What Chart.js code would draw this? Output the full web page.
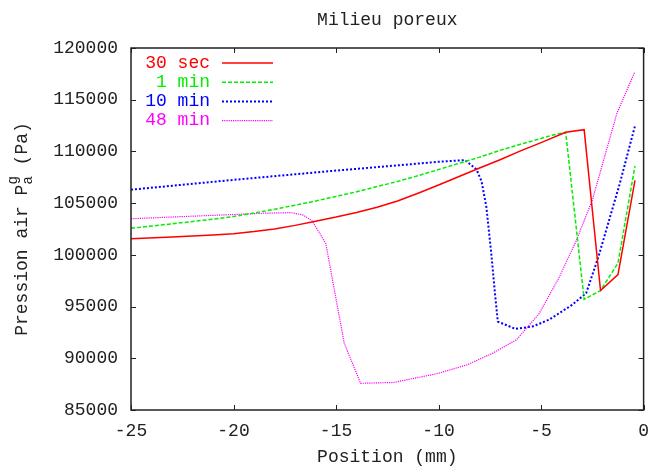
<!DOCTYPE html>
<html>
<head>
<meta charset="utf-8">
<script src="https://cdn.jsdelivr.net/npm/chart.js@4/dist/chart.umd.min.js"></script>
<style>
  body { margin: 0; background: #fff; }
</style>
</head>
<body>
<canvas id="myChart" width="659" height="468"></canvas>
<script>
// series labels
var labels = ['30 sec', ' 1 min', '10 min', '48 min'];

// position (mm) / pression (Pa)
var x30s = [-25, -23, -21, -20, -19, -18, -17, -16, -15, -14, -13, -12, -11, -10, -9, -8, -7, -6, -5, -3.8, -2.9, -2.1, -1.25, -0.42];
var p30s = [101550, 101720, 101920, 102050, 102250, 102500, 102850, 103250, 103650, 104100, 104600, 105200, 105950, 106750, 107580, 108400, 109200, 110050, 110850, 111850, 112100, 96550, 98100, 107200];

var x1m = [-25, -23, -21, -20, -19, -18, -17, -16, -15, -14, -13, -12, -11, -10, -9, -8, -7, -6, -5, -4.5, -3.8, -2.9, -2.1, -1.25, -0.42];
var p1m = [102570, 103000, 103450, 103700, 104050, 104400, 104800, 105200, 105650, 106100, 106600, 107100, 107650, 108250, 108850, 109450, 110100, 110700, 111250, 111550, 111850, 95700, 96550, 99200, 108600];

var x10m = [-25, -20, -15, -12, -10, -8.7, -8.15, -7.9, -7.67, -7.43, -7.25, -7.11, -6.26, -5.42, -4.62, -3.49, -2.8, -2.2, -1.16, -0.42];
var p10m = [106300, 107250, 108150, 108650, 109000, 109160, 108250, 107100, 104650, 100150, 96300, 93550, 92850, 93070, 93720, 95160, 96300, 99830, 106910, 112470];

var x48m = [-25, -22.5, -20, -18.5, -17.2, -16.6, -16.15, -15.5, -14.6, -13.8, -12.2, -10.1, -8.6, -7.35, -6.2, -5.1, -4.15, -3.3, -2.5, -1.3, -0.43];
var p48m = [103490, 103700, 103900, 104030, 104080, 103850, 103250, 101100, 91450, 87580, 87660, 88500, 89370, 90500, 91790, 94300, 97700, 101300, 105300, 113700, 117680];

var xTicks = [-25, -20, -15, -10, -5, 0];
var yTicks = [85000, 90000, 95000, 100000, 105000, 110000, 115000, 120000];

var colors = ['#ff0000', '#00ee00', '#0000ff', '#ff00ff'];
var dashes = [[], [4, 2], [2, 2], [1.2, 1]];
var widths = [1.5, 1.5, 2, 1.2];

var FONT = "'Liberation Mono', 'DejaVu Sans Mono', monospace";

function pts(xs, ys) {
    return xs.map(function (v, i) { return {x: v, y: ys[i]}; });
}

var series = [pts(x30s, p30s), pts(x1m, p1m), pts(x10m, p10m), pts(x48m, p48m)];

// gnuplot look: title, y title with sub/superscript, border, inward ticks, legend
var decor = {
    id: 'decor',
    afterDraw: function (chart) {
        var ctx = chart.ctx, a = chart.chartArea;
        var sx = chart.scales.x, sy = chart.scales.y;
        ctx.save();

        ctx.strokeStyle = '#222';
        ctx.lineWidth = 1;
        ctx.setLineDash([]);
        ctx.beginPath();
        sx.ticks.forEach(function (t) {
            var px = Math.round(sx.getPixelForValue(t.value)) + 0.5;
            ctx.moveTo(px, a.bottom); ctx.lineTo(px, a.bottom - 5);
            ctx.moveTo(px, a.top); ctx.lineTo(px, a.top + 5);
        });
        sy.ticks.forEach(function (t) {
            var py = Math.round(sy.getPixelForValue(t.value)) + 0.5;
            ctx.moveTo(a.left, py); ctx.lineTo(a.left + 5, py);
            ctx.moveTo(a.right, py); ctx.lineTo(a.right - 5, py);
        });
        ctx.stroke();
        ctx.lineWidth = 1.5;
        ctx.strokeRect(a.left, a.top, a.right - a.left, a.bottom - a.top);

        // title
        ctx.fillStyle = '#222';
        ctx.font = '18px ' + FONT;
        ctx.textAlign = 'center';
        ctx.textBaseline = 'middle';
        ctx.fillText('Milieu poreux', (a.left + a.right) / 2, 20);

        // y title: Pression air P_a^g (Pa)
        var main1 = 'Pression air P', main2 = ' (Pa)';
        ctx.save();
        ctx.translate(22, (a.top + a.bottom) / 2);
        ctx.rotate(-Math.PI / 2);
        ctx.font = '18px ' + FONT;
        var w1 = ctx.measureText(main1).width;
        var w2 = ctx.measureText(main2).width;
        ctx.font = '14px ' + FONT;
        var ws = ctx.measureText('a').width;
        var x0 = -(w1 + ws + w2) / 2;
        ctx.textAlign = 'left';
        ctx.font = '18px ' + FONT;
        ctx.fillText(main1, x0, 0);
        ctx.font = '14px ' + FONT;
        ctx.fillText('a', x0 + w1, 6);
        ctx.fillText('g', x0 + w1, -9);
        ctx.font = '18px ' + FONT;
        ctx.fillText(main2, x0 + w1 + ws, 0);
        ctx.restore();

        // legend: text then line sample
        ctx.font = '18px ' + FONT;
        ctx.textAlign = 'right';
        ctx.textBaseline = 'middle';
        chart.data.datasets.forEach(function (ds, i) {
            var ly = 63 + i * 19.2;
            ctx.fillStyle = ds.borderColor;
            ctx.fillText(ds.label, 210, ly);
            ctx.strokeStyle = ds.borderColor;
            ctx.lineWidth = ds.borderWidth;
            ctx.setLineDash(ds.borderDash);
            ctx.beginPath();
            ctx.moveTo(222, ly);
            ctx.lineTo(273, ly);
            ctx.stroke();
        });
        ctx.restore();
    }
};

var ctx = document.getElementById('myChart').getContext('2d');
var myChart = new Chart(ctx, {
    type: 'line',
    data: {
        datasets: series.map(function (d, i) {
            return {
                label: labels[i],
                data: d,
                borderColor: colors[i],
                borderWidth: widths[i],
                borderDash: dashes[i],
                pointRadius: 0,
                tension: 0,
                fill: false
            };
        })
    },
    options: {
        responsive: false,
        animation: false,
        devicePixelRatio: 1,
        layout: { padding: { top: 48, right: 10, left: 0, bottom: 0 } },
        scales: {
            x: {
                type: 'linear',
                min: -25,
                max: 0,
                afterBuildTicks: function (s) { s.ticks = xTicks.map(function (v) { return {value: v}; }); },
                afterFit: function (s) { s.height = 58; },
                grid: { display: false, drawTicks: false },
                border: { display: false },
                ticks: {
                    padding: 10,
                    maxRotation: 0,
                    autoSkip: false,
                    color: '#222',
                    font: { family: FONT, size: 18 },
                    callback: function (v) { return String(v); }
                },
                title: {
                    display: true,
                    text: 'Position (mm)',
                    color: '#222',
                    padding: 0,
                    font: { family: FONT, size: 18 }
                }
            },
            y: {
                min: 85000,
                max: 120000,
                afterBuildTicks: function (s) { s.ticks = yTicks.map(function (v) { return {value: v}; }); },
                afterFit: function (s) { s.width = 131; },
                grid: { display: false, drawTicks: false },
                border: { display: false },
                ticks: {
                    padding: 13,
                    color: '#222',
                    font: { family: FONT, size: 18 },
                    callback: function (v) { return String(v); }
                }
            }
        },
        plugins: {
            legend: { display: false },
            tooltip: { enabled: false }
        }
    },
    plugins: [decor]
});
</script>
</body>
</html>
